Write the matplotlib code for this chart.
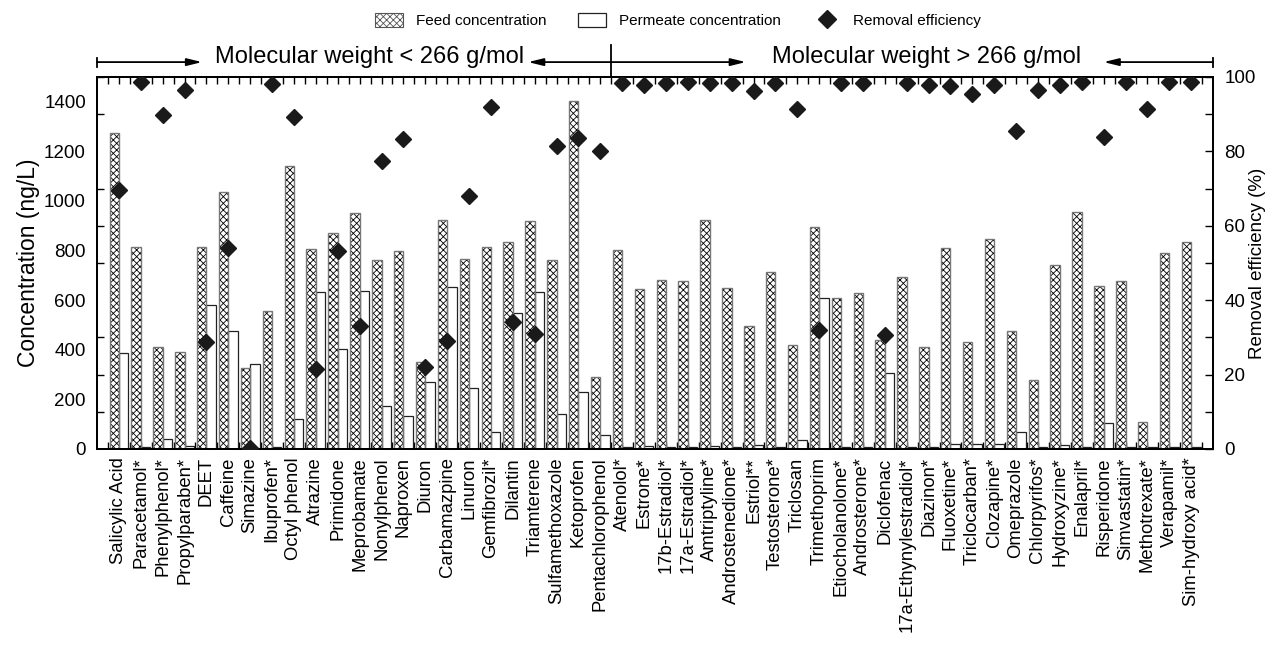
import numpy as np
import matplotlib
matplotlib.use("Agg")
import matplotlib.pyplot as plt
from matplotlib.patches import Patch
from matplotlib.lines import Line2D
from matplotlib.ticker import FixedLocator

plt.rcParams['font.family'] = ['Liberation Sans', 'DejaVu Sans']
plt.rcParams['hatch.linewidth'] = 0.6

compounds = [
    "Salicylic Acid", "Paracetamol*", "Phenylphenol*", "Propylparaben*", "DEET",
    "Caffeine", "Simazine", "Ibuprofen*", "Octyl phenol", "Atrazine",
    "Primidone", "Meprobamate", "Nonylphenol", "Naproxen", "Diuron",
    "Carbamazpine", "Linuron", "Gemfibrozil*", "Dilantin", "Triamterene",
    "Sulfamethoxazole", "Ketoprofen", "Pentachlorophenol", "Atenolol*", "Estrone*",
    "17b-Estradiol*", "17a-Estradiol*", "Amtriptyline*", "Androstenedione*", "Estriol**",
    "Testosterone*", "Triclosan", "Trimethoprim", "Etiocholanolone*", "Androsterone*",
    "Diclofenac", "17a-Ethynylestradiol*", "Diazinon*", "Fluoxetine*", "Triclocarban*",
    "Clozapine*", "Omeprazole", "Chlorpyrifos*", "Hydroxyzine*", "Enalapril*",
    "Risperidone", "Simvastatin*", "Methotrexate*", "Verapamil*", "Sim-hydroxy acid*",
]

feed_ng_l = [
    1276, 813, 410, 393, 813, 1037, 325, 555, 1140, 806,
    869, 951, 761, 800, 349, 924, 765, 813, 836, 918,
    761, 1403, 292, 802, 647, 683, 678, 922, 651, 494,
    712, 420, 895, 610, 627, 439, 695, 410, 809, 430,
    848, 474, 279, 741, 955, 659, 679, 109, 789, 836,
]

permeate_ng_l = [
    386, 7, 40, 13, 580, 476, 343, 7, 121, 632,
    405, 637, 172, 133, 272, 655, 244, 67, 550, 632,
    140, 228, 56, 8, 11, 7, 7, 13, 7, 17,
    7, 38, 609, 7, 7, 306, 7, 7, 21, 21,
    20, 67, 7, 17, 7, 105, 7, 7, 7, 7,
]

removal_pct = [
    69.6, 98.7, 89.9, 96.6, 28.7, 53.9, 0.3, 98.2, 89.3, 21.5,
    53.3, 33.1, 77.4, 83.3, 22.0, 29.1, 68.0, 91.8, 34.0, 30.9,
    81.5, 83.6, 80.1, 98.5, 97.9, 98.5, 98.6, 98.5, 98.4, 96.2,
    98.5, 91.5, 32.0, 98.5, 98.4, 30.6, 98.5, 97.8, 97.7, 95.3,
    97.8, 85.4, 96.6, 97.8, 98.6, 83.9, 98.6, 91.5, 98.6, 98.6,
]

low_mw_label = "Molecular weight < 266 g/mol"
high_mw_label = "Molecular weight > 266 g/mol"
n_low_mw = 23  # compounds below 266 g/mol come first

x = np.arange(1, len(compounds) + 1)
w = 0.43

fig = plt.figure(figsize=(12.75, 6.54), dpi=100)
ax = fig.add_axes([0.0761, 0.3135, 0.8753, 0.5688])
ax2 = ax.twinx()

# feed bars: black cross-hatch, then a grey outline on top
ax.bar(x - w / 2, feed_ng_l, width=w, color='white', edgecolor='black',
       hatch='xxxxx', linewidth=0, zorder=2)
ax.bar(x - w / 2, feed_ng_l, width=w, fill=False, edgecolor='#777777',
       linewidth=1.0, zorder=3)
# permeate bars: open
ax.bar(x + w / 2, permeate_ng_l, width=w, color='white', edgecolor='#222222',
       linewidth=0.9, zorder=2)

ax2.plot(x, removal_pct, linestyle='none', marker='D', markersize=8.6,
         color='#1a1a1a', clip_on=True, zorder=4)

ax.set_xlim(0, len(compounds) + 1)
ax.set_ylim(0, 1500)
ax2.set_ylim(0, 100)

# x ticks
ax.set_xticks(x)
ax.set_xticklabels(compounds, rotation=90, fontsize=13.3)
ax.xaxis.set_minor_locator(FixedLocator(np.arange(0.5, len(compounds) + 1, 1.0)))
ax.tick_params(axis='x', which='both', direction='in', top=True, bottom=True,
               length=5, width=1.0, pad=6)

# left y: labels every 200, tick marks every 150
ax.set_yticks(np.arange(0, 1401, 200))
ax.yaxis.set_minor_locator(FixedLocator(np.arange(0, 1501, 150)))
ax.tick_params(axis='y', which='major', length=0, labelsize=13.5, pad=8)
ax.tick_params(axis='y', which='minor', direction='in', length=5, width=1.0)
ax.set_ylabel("Concentration (ng/L)", fontsize=16.5)
ax.yaxis.set_label_coords(-0.051, 0.5)

# right y
ax2.set_yticks(np.arange(0, 101, 20))
ax2.yaxis.set_minor_locator(FixedLocator(np.arange(0, 101, 10)))
ax2.tick_params(axis='y', which='both', direction='in', length=6, width=1.0,
                labelsize=13.5, pad=8)
ax2.set_ylabel("Removal efficiency (%)", fontsize=13.5)
ax2.yaxis.set_label_coords(1.032, 0.5)

for a in (ax, ax2):
    for s in a.spines.values():
        s.set_linewidth(1.4)

# molecular weight bracket above the plot
trans = ax.get_xaxis_transform()
y_arrow = 1.04
y_text = 1.055
split = n_low_mw + 0.5
arrow_kw = dict(arrowstyle='-|>,head_length=0.9,head_width=0.22', color='black',
                lw=1.3, shrinkA=0, shrinkB=0)
ax.annotate('', xy=(4.8, y_arrow), xytext=(0, y_arrow), xycoords=trans,
            textcoords=trans, arrowprops=arrow_kw, annotation_clip=False)
ax.annotate('', xy=(19.7, y_arrow), xytext=(split, y_arrow), xycoords=trans,
            textcoords=trans, arrowprops=arrow_kw, annotation_clip=False)
ax.annotate('', xy=(29.65, y_arrow), xytext=(split, y_arrow), xycoords=trans,
            textcoords=trans, arrowprops=arrow_kw, annotation_clip=False)
ax.annotate('', xy=(46.0, y_arrow), xytext=(len(compounds) + 1, y_arrow),
            xycoords=trans, textcoords=trans, arrowprops=arrow_kw,
            annotation_clip=False)
ax.plot([0, 0], [y_arrow - 0.012, y_arrow + 0.012], color='black', lw=1.3,
        transform=trans, clip_on=False)
ax.plot([len(compounds) + 1] * 2, [y_arrow - 0.012, y_arrow + 0.012],
        color='black', lw=1.3, transform=trans, clip_on=False)
ax.plot([split, split], [1.0, 1.087], color='black', lw=1.3, transform=trans,
        clip_on=False)
ax.text(12.45, y_text, low_mw_label, transform=trans, ha='center', va='center',
        fontsize=17)
ax.text(37.9, y_text, high_mw_label, transform=trans, ha='center', va='center',
        fontsize=17)

handles = [
    Patch(facecolor='white', edgecolor='#555555', hatch='xxxxx', linewidth=0.8),
    Patch(facecolor='white', edgecolor='#222222', linewidth=0.9),
    Line2D([], [], linestyle='none', marker='D', markersize=9, color='#1a1a1a'),
]
fig.legend(handles, ["Feed concentration", "Permeate concentration",
                     "Removal efficiency"],
           loc='center', bbox_to_anchor=(0.532, 0.968), ncol=3, frameon=False,
           fontsize=11, handlelength=1.8, handleheight=1.0, columnspacing=2.1,
           handletextpad=0.85)

fig.savefig("out.png", dpi=100)
